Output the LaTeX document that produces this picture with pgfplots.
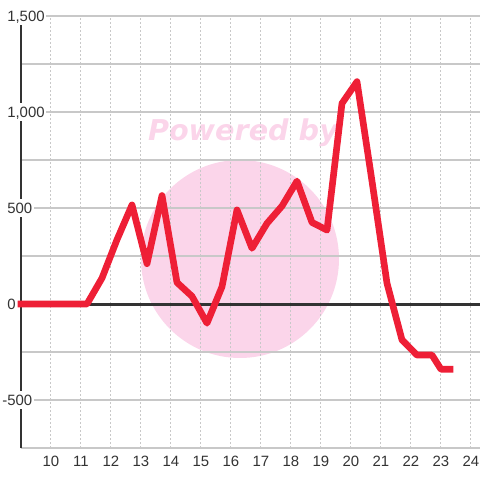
\documentclass[border=0pt]{standalone}
\usepackage{pgfplots}
\pgfplotsset{compat=1.18}
\usepackage{fontspec}
\setmainfont{Liberation Sans}
\newfontfamily\wmfont{DejaVu Sans}
\definecolor{linered}{HTML}{EE1F36}
\definecolor{wmpink}{HTML}{FBD5EA}
\definecolor{axdark}{HTML}{333333}
\definecolor{gridgray}{HTML}{C8C8C8}
\begin{document}
\begin{tikzpicture}[font=\fontsize{11.2}{13}\selectfont]
\begin{axis}[
  set layers,
  at={(0pt,0pt)}, anchor=south west,
  scale only axis, width=344.25pt, height=324pt,
  xmin=9, xmax=24.3, ymin=-750, ymax=1500,
  clip=false,
  xtick={10,11,...,24},
  ytick={-500,0,500,1000,1500},
  yticklabels={\llap{-}500,0,500,{1,000},{1,500}},
  minor ytick={-750,-250,250,750,1250},
  major tick length=0pt, minor tick length=0pt,
  /pgf/number format/assume math mode=true,
  xmajorgrids, ymajorgrids, yminorgrids,
  x grid style={gridgray, line width=0.75pt, dash pattern=on 1.5pt off 1.5pt},
  y grid style={gridgray, line width=1pt},
  minor y grid style={gridgray, line width=1pt},
  axis x line*=bottom, axis y line*=left,
  x axis line style={draw=none},
  y axis line style={draw=axdark, line width=2.1pt},
  xticklabel style={text=axdark, anchor=north, inner sep=0pt, yshift=-6pt},
  yticklabel style={text=axdark, anchor=west, xshift=-11.5pt, fill=white, inner xsep=1pt, inner ysep=2.5pt, text depth=0pt},
]
\begin{pgfonlayer}{axis background}
\fill[wmpink] (axis cs:16.3,234.4) circle[radius=74.25pt];
\node[text=wmpink, font=\wmfont\bfseries\itshape\fontsize{21.5}{25}\selectfont] at (axis cs:16.4,890) {Powered by};
\end{pgfonlayer}
\draw[axdark, line width=2.25pt] (axis cs:9,0) -- (axis cs:24.3,0);
\addplot[linered, line width=5pt, line join=round, line cap=rect] coordinates {
(9.0,0) (9.2,0) (9.7,0) (10.2,0) (10.7,0) (11.2,0)
(11.7,135) (12.2,335) (12.7,516) (13.2,210) (13.7,565)
(14.2,112) (14.7,40) (15.2,-100) (15.7,90) (16.2,490)
(16.7,290) (17.2,420) (17.7,510) (18.2,640) (18.7,425)
(19.2,385) (19.7,1045) (20.2,1158) (20.7,640) (21.2,108)
(21.7,-187) (22.2,-266) (22.7,-266) (23.0,-340) (23.3,-340)
};
\end{axis}
\pgfresetboundingbox
\path[use as bounding box] (-15.75pt,-24pt) rectangle (344.25pt,336pt);
\end{tikzpicture}
\end{document}
